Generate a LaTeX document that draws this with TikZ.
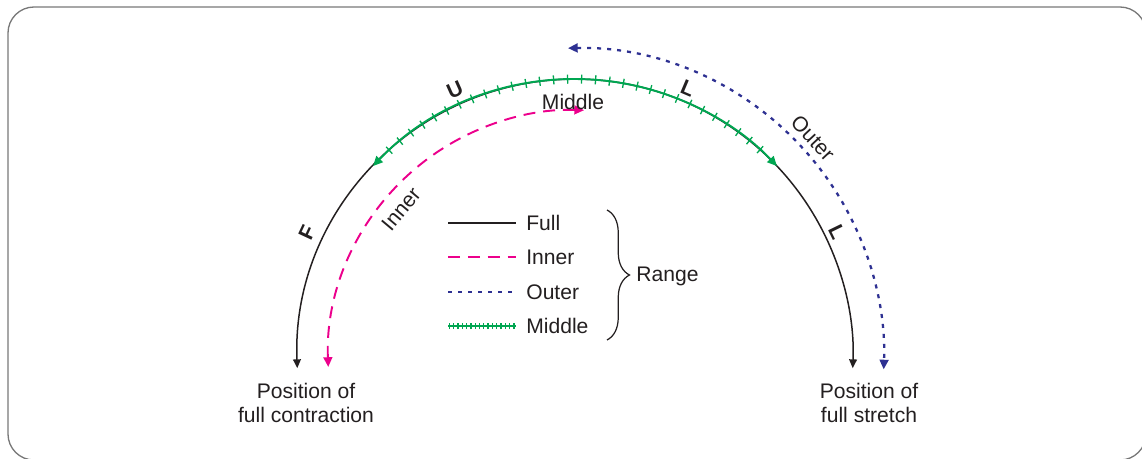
\documentclass[tikz,border=0pt]{standalone}
\usepackage{fontspec}
\setmainfont{Liberation Sans}
\usepackage{tikz}
\usetikzlibrary{arrows.meta, positioning, calc, decorations.markings, decorations.pathreplacing}
\definecolor{framegray}{RGB}{120,120,120}
\definecolor{txtblack}{RGB}{35,31,32}
\definecolor{rangepink}{RGB}{236,0,140}
\definecolor{rangeblue}{RGB}{46,49,146}
\definecolor{rangegreen}{RGB}{0,166,81}
\tikzset{
  lbl/.style={
    font=\fontsize{12}{13.7}\selectfont,
    text=txtblack,
    inner sep=0pt
  },
  jointlbl/.style={lbl, font=\fontsize{12}{13.7}\selectfont\bfseries},
  legendlbl/.style={lbl, anchor=west, inner xsep=0.2cm},
  fullln/.style={draw=txtblack, line width=0.85pt},
  innerln/.style={draw=rangepink, line width=1.1pt, dash pattern=on 6.8pt off 4.5pt},
  outerln/.style={draw=rangeblue, line width=1.3pt, dash pattern=on 2.3pt off 3.4pt},
  midln/.style={draw=rangegreen, line width=1.1pt},
  midticks/.style n args={4}{
    postaction={decorate, decoration={markings,
      mark=between positions #1 and #2 step #3 with
      {\draw[-, rangegreen, solid, line width=0.75pt] (0,-#4) -- (0,#4);}}}
  },
  tipblack/.style={{Triangle[length=5pt,width=4.4pt]}-{Triangle[length=5pt,width=4.4pt]}},
  tipcol/.style={{Triangle[length=5.5pt,width=5pt]}-{Triangle[length=5.5pt,width=5pt]}},
  framebox/.style={draw=framegray, line width=0.75pt, rounded corners=0.52cm}
}

\begin{document}
\begin{tikzpicture}[x=0.02cm, y=0.02cm]

\useasboundingbox (0,0) rectangle (1142,458);
\clip (0,0) rectangle (1142,458);

% Frame
\draw[framebox] (8,-2) rectangle (1146,451);

% Arc centre and end points
\coordinate (c) at (575,101);
\coordinate (fullL) at ($(c)+(182.3:5.56cm)$);
\coordinate (innerL) at ($(c)+(182.3:4.94cm)$);
\coordinate (outerT) at ($(c)+(91.3:6.18cm)$);
\coordinate (midL) at ($(c)+(136.6:5.56cm)$);

% Ranges
\draw[fullln, tipblack] (fullL) arc[start angle=182.3, end angle=-2.3, radius=5.56cm];
\draw[innerln, tipcol] (innerL) arc[start angle=182.3, end angle=87.9, radius=4.94cm];
\draw[outerln, tipcol] (outerT) arc[start angle=91.3, end angle=-2.3, radius=6.18cm];
\draw[midln, tipcol, midticks={0.05}{0.96}{0.28cm}{2.6pt}] (midL) arc[start angle=136.6, end angle=43.4, radius=5.56cm];

% Joint letters
\node[jointlbl, rotate=65] (jF) at (307,225) {F};
\node[jointlbl, rotate=24] (jU) at (455,368) {U};
\node[jointlbl, rotate=-23] (jL1) at (688,370) {L};
\node[jointlbl, rotate=-64] (jL2) at (837,226) {L};

% Range names on the arcs
\node[lbl, rotate=50] (tinner) at (401,249) {Inner};
\node[lbl] (tmid) at (573,356) {Middle};
\node[lbl, rotate=-47] (touter) at (813,320) {Outer};

% Legend
\node[legendlbl] (lgfull) at (516,235) {Full};
\node[legendlbl] (lginner) at (516,201) {Inner};
\node[legendlbl] (lgouter) at (516,166) {Outer};
\node[legendlbl] (lgmid) at (516,132) {Middle};

\draw[fullln] ([xshift=-1.36cm]lgfull.west) -- (lgfull.west);
\draw[innerln] ([xshift=-1.36cm]lginner.west) -- (lginner.west);
\draw[outerln] ([xshift=-1.36cm]lgouter.west) -- (lgouter.west);
\draw[midln, midticks={0.02}{0.99}{0.086cm}{1.8pt}] ([xshift=-1.36cm]lgmid.west) -- (lgmid.west);

\coordinate (brtop) at (607,248);
\coordinate (brbot) at (607,118);
\draw[txtblack, line width=0.7pt, decorate, decoration={brace, amplitude=0.45cm}] (brtop) -- (brbot);
\node[lbl, anchor=west] (range) at (636,182) {Range};

% End positions
\node[lbl, align=center] (contr) at (306,55) {Position of\\full contraction};
\node[lbl, align=center] (stretch) at (869,55) {Position of\\full stretch};

\end{tikzpicture}
\end{document}
